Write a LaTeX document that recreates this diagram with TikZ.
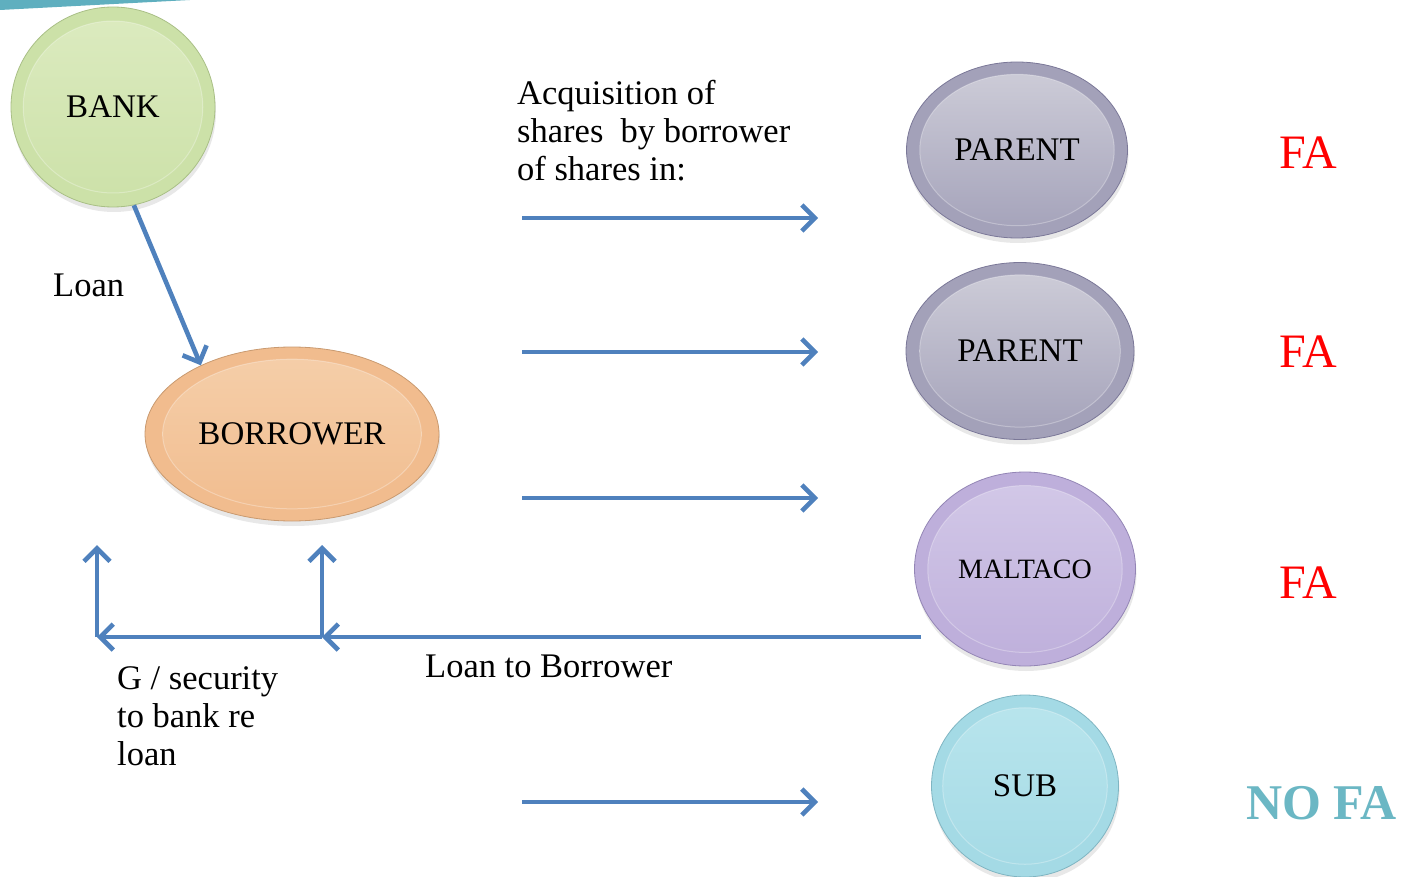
\documentclass[tikz,border=0pt]{standalone}
\usepackage{fontspec}
\setmainfont{Liberation Serif}
\usetikzlibrary{shapes.geometric,arrows.meta,shadows,calc}
\definecolor{arrowblue}{HTML}{4F81BD}
\definecolor{teal}{HTML}{5FAFBF}
\definecolor{nofa}{HTML}{6BB7C4}
\definecolor{bankA}{HTML}{CCE1A8}\definecolor{bankB}{HTML}{DCEBC0}\definecolor{bankE}{HTML}{A9BF86}
\definecolor{borA}{HTML}{F1BC8E}\definecolor{borB}{HTML}{F5CFAA}\definecolor{borE}{HTML}{C99A70}
\definecolor{parA}{HTML}{A3A1B9}\definecolor{parB}{HTML}{CFCED9}\definecolor{parE}{HTML}{7B7898}
\definecolor{malA}{HTML}{BEAFDB}\definecolor{malB}{HTML}{D3C9E8}\definecolor{malE}{HTML}{9385B5}
\definecolor{subA}{HTML}{A4DAE5}\definecolor{subB}{HTML}{B9E5ED}\definecolor{subE}{HTML}{7FB5C2}
\tikzset{
  ball/.style n args={3}{ellipse, draw=#3, line width=0.8pt, fill=#1, inner sep=0pt,
    font=\fontsize{33}{38}\selectfont,
    drop shadow={opacity=0.18, shadow xshift=1pt, shadow yshift=-5pt},
    path picture={
      \shade[top color=#2, bottom color=#1]
        let \p1=(path picture bounding box.south west),
            \p2=(path picture bounding box.north east) in
        (path picture bounding box.center) ellipse ({0.44*(\x2-\x1)} and {0.43*(\y2-\y1)});
      \draw[white, opacity=0.3, line width=1pt]
        let \p1=(path picture bounding box.south west),
            \p2=(path picture bounding box.north east) in
        (path picture bounding box.center) ellipse ({0.44*(\x2-\x1)} and {0.43*(\y2-\y1)});
    }},
  lbl/.style={font=\fontsize{34.5}{38}\selectfont, inner sep=0pt, align=left},
  fa/.style={font=\fontsize{48}{52}\selectfont, text=red, inner sep=0pt},
  arr/.style={draw=arrowblue, line width=4.6pt, -{Straight Barb[length=13pt,width=26pt]}}
}
\begin{document}
\begin{tikzpicture}[x=1pt,y=-1pt]
\useasboundingbox (0,0) rectangle (1402,877);
% top-left stripe
\fill[teal] (0,0) -- (190,0) -- (0,10) -- cycle;

% nodes
\node[ball={bankA}{bankB}{bankE}, minimum width=204pt, minimum height=200pt] (bank) at (113,107) {BANK};
\node[ball={borA}{borB}{borE}, minimum width=294pt, minimum height=174pt] (borrower) at (292,434) {BORROWER};
\node[ball={parA}{parB}{parE}, minimum width=221pt, minimum height=176pt] (parent1) at (1017,150) {PARENT};
\node[ball={parA}{parB}{parE}, minimum width=228pt, minimum height=177pt] (parent2) at (1020,351) {PARENT};
\node[ball={malA}{malB}{malE}, minimum width=221pt, minimum height=194pt, font=\fontsize{28}{32}\selectfont] (maltaco) at (1025,569) {MALTACO};
\node[ball={subA}{subB}{subE}, minimum width=187pt, minimum height=182pt] (sub) at (1025,786) {SUB};

% texts
\node[lbl, anchor=north west] (acq) at (517,80) {Acquisition of\\shares\ \ by borrower\\of shares in:};
\node[lbl, anchor=base west] (loan) at (53,296) {Loan};
\node[lbl, anchor=north west] (gsec) at (117,666) {G / security\\to bank re\\loan};
\node[lbl, anchor=base west] (ltb) at (425,677) {Loan to Borrower};
\node[fa, anchor=base west] (fa1) at (1279,169) {FA};
\node[fa, anchor=base west] (fa2) at (1279,367) {FA};
\node[fa, anchor=base west] (fa3) at (1279,598) {FA};
\node[font=\fontsize{50}{54}\selectfont\bfseries, text=nofa, inner sep=0pt, anchor=base west] (nofa) at (1246,819) {NO FA};

% coordinates
\coordinate (a1s) at (522,218); \coordinate (a1e) at (818,218);
\coordinate (a2s) at (522,352); \coordinate (a2e) at (818,352);
\coordinate (a3s) at (522,498); \coordinate (a3e) at (818,498);
\coordinate (a4s) at (522,802); \coordinate (a4e) at (818,802);
\coordinate (ls) at (921,637);
\coordinate (j1) at (322,637);
\coordinate (j2) at (97,637);
\coordinate (u1) at (322,545);
\coordinate (u2) at (97,545);

% connectors
\draw[arr] (bank.-78) -- (borrower.143);
\draw[arr] (a1s) -- (a1e);
\draw[arr] (a2s) -- (a2e);
\draw[arr] (a3s) -- (a3e);
\draw[arr] (a4s) -- (a4e);
\draw[arr] (ls) -- (j1);
\draw[arr] (j1) -- (j2);
\draw[arr] (j1) -- (u1);
\draw[arr] (j2) -- (u2);
\end{tikzpicture}
\end{document}
